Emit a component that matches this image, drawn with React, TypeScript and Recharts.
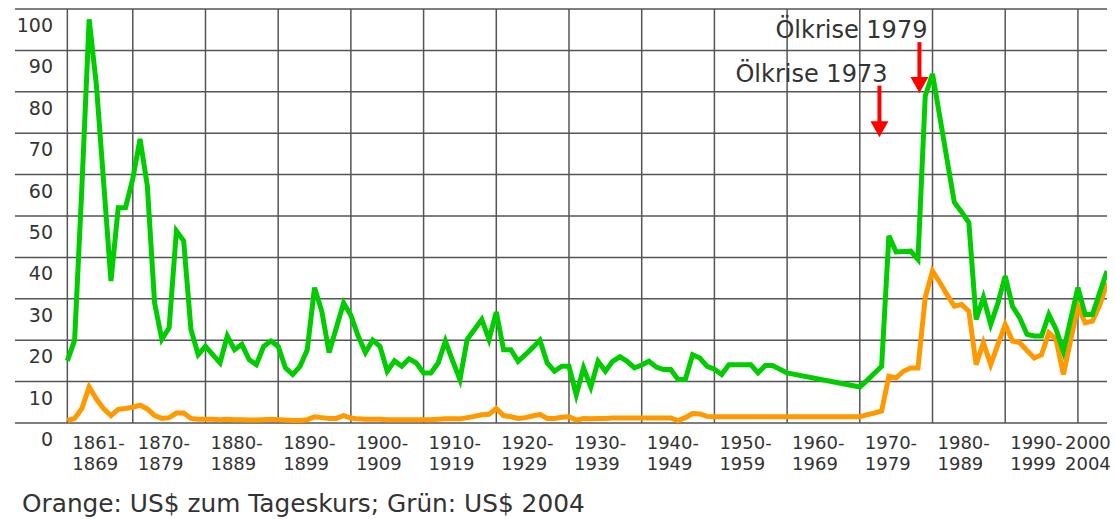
import React from 'react'
import {
  LineChart,
  Line,
  XAxis,
  YAxis,
  CartesianGrid,
  ReferenceLine,
} from 'recharts'

// years with a value (the 1960s have no points, the line just bridges them)
const range = (from: number, to: number) => {
  const out: number[] = []
  for (let y = from; y <= to; y++) out.push(y)
  return out
}
const earlyYears = range(1861, 1960)
const lateYears = range(1970, 2004)

// green: US$ 2004
const greenEarly = [
  15, 20, 57, 97.5, 81.5, 58, 34.3, 52, 52, 59,
  68.6, 57.3, 29, 20.2, 23, 46.4, 44, 22.6, 16.5, 18.5,
  16.5, 14.5, 21, 17.7, 19, 15.3, 14.1, 18.5, 19.8, 18.5,
  13.3, 11.7, 13.7, 17.7, 32.7, 27, 17, 23, 29, 26,
  21, 17, 20, 18.5, 12.5, 15, 13.7, 15.5, 14.5, 12.1,
  12.1, 14.5, 19.8, 15, 10.5, 20.2, 22.6, 25, 20.2, 26.8,
  17.7, 17.7, 14.9, 16.5, 18.2, 20, 14.5, 12.5, 13.7, 13.7,
  6.8, 13.3, 8.7, 14.9, 12.5, 14.9, 16, 14.9, 13.3, 14,
  14.9, 13.5, 12.9, 12.9, 10.5, 10.5, 16.5, 15.7, 13.7, 13,
  11.7, 14.1, 14.1, 14.1, 14.1, 12.1, 13.9, 13.9, 13, 12.1,
]
const greenLate = [
  8.7, 10.3, 12, 13.7, 45.2, 41.3, 41.4, 41.5, 39.5, 79,
  84.3, 74, 63.6, 53.3, 51, 48.4, 25, 30.3, 23.8, 29,
  35.5, 28.2, 25.4, 21.4, 21, 21, 26.2, 22.6, 17.3, 25,
  32.7, 26.2, 26.2, 31.5, 36.7,
]

// orange: US$ zum Tageskurs
const orangeEarly = [
  0.6, 1.1, 3.5, 8.7, 5.8, 3.4, 1.8, 3.3, 3.5, 3.8,
  4.3, 3.4, 1.8, 1.1, 1.3, 2.4, 2.4, 1.1, 0.9, 0.9,
  0.9, 0.8, 0.9, 0.8, 0.8, 0.7, 0.7, 0.8, 0.9, 0.8,
  0.7, 0.6, 0.6, 0.8, 1.5, 1.3, 1.1, 1.1, 1.8, 1.2,
  1.0, 0.9, 0.9, 0.9, 0.8, 0.8, 0.8, 0.8, 0.8, 0.8,
  0.8, 0.9, 1.0, 1.0, 1.0, 1.3, 1.6, 2.0, 2.1, 3.5,
  1.8, 1.5, 1.1, 1.3, 1.7, 2.1, 1.1, 1.1, 1.4, 1.5,
  0.7, 1.1, 1.0, 1.1, 1.1, 1.2, 1.2, 1.2, 1.2, 1.2,
  1.2, 1.2, 1.2, 1.2, 0.6, 1.3, 2.3, 2.2, 1.6, 1.5,
  1.5, 1.5, 1.5, 1.5, 1.5, 1.5, 1.5, 1.5, 1.5, 1.5,
]
const orangeLate = [
  1.5, 2.0, 2.4, 2.9, 11.3, 10.9, 12.5, 13.3, 13.3, 30.3,
  36.7, 34, 31, 28.2, 28.6, 27, 14.1, 19.4, 14.1, 19,
  23.8, 19.8, 19.4, 17.5, 15.7, 16.5, 21.8, 20.2, 11.7, 20,
  28.2, 24.2, 24.6, 28.5, 33.9,
]

const decadeTicks = [1861, 1870, 1880, 1890, 1900, 1910, 1920, 1930, 1940, 1950, 1960, 1970, 1980, 1990, 2000]
const labelTop = ['1861-', '1870-', '1880-', '1890-', '1900-', '1910-', '1920-', '1930-', '1940-', '1950-', '1960-', '1970-', '1980-', '1990-', '2000']
const labelBottom = ['1869', '1879', '1889', '1899', '1909', '1919', '1929', '1939', '1949', '1959', '1969', '1979', '1989', '1999', '2004']
const valueTicks = [0, 10, 20, 30, 40, 50, 60, 70, 80, 90, 100]

const crises = [
  { label: 'Ölkrise 1973', year: 1972.7, from: 81.5, to: 69 },
  { label: 'Ölkrise 1979', year: 1978.2, from: 92, to: 79.7 },
]

const data = [
  ...earlyYears.map((year, i) => ({ year, green: greenEarly[i], orange: orangeEarly[i] })),
  ...lateYears.map((year, i) => ({ year, green: greenLate[i], orange: orangeLate[i] })),
]

const FONT = '"DejaVu Sans", Verdana, sans-serif'
const TEXT = '#333'
const GRID = '#555'

const XTick = (props: any) => {
  const { x, y, index } = props
  const last = index === decadeTicks.length - 1
  const tx = last ? x + 10 : x + 5
  const anchor = last ? 'middle' : 'start'
  return (
    <text fontFamily={FONT} fontSize={18} fill={TEXT} textAnchor={anchor}>
      <tspan x={tx} y={y + 24}>{labelTop[index]}</tspan>
      <tspan x={tx} y={y + 45}>{labelBottom[index]}</tspan>
    </text>
  )
}

const YTick = (props: any) => {
  const { x, y, payload } = props
  return (
    <text x={x + 38} y={y + 23} fontFamily={FONT} fontSize={19} fill={TEXT} textAnchor="end">
      {payload.value}
    </text>
  )
}

const Arrow = (props: any) => {
  const { x1, y1, x2, y2, label } = props
  return (
    <g>
      <line x1={x1} y1={y1} x2={x2} y2={y2 - 14} stroke="#ff0000" strokeWidth={4} />
      <polygon points={`${x2 - 9},${y2 - 16} ${x2 + 9},${y2 - 16} ${x2},${y2}`} fill="#ff0000" />
      <text x={x1 + 8} y={y1 - 4} fontFamily={FONT} fontSize={24} fill={TEXT} textAnchor="end">
        {label}
      </text>
    </g>
  )
}

export default function App() {
  return (
    <div style={{ position: 'absolute', left: 0, top: 0, width: 1115, height: 519, background: '#fff' }}>
      <LineChart
        width={1115}
        height={519}
        data={data}
        margin={{ top: 9, right: 8, left: 0, bottom: 46 }}
      >
        <CartesianGrid stroke={GRID} strokeWidth={1.5} vertical={false} />
        <XAxis
          type="number"
          dataKey="year"
          domain={[1853.8, 2004]}
          allowDataOverflow
          ticks={decadeTicks}
          interval={0}
          height={50}
          axisLine={false}
          tickLine={false}
          tickSize={0}
          tick={<XTick />}
        />
        <YAxis
          type="number"
          domain={[0, 100]}
          ticks={valueTicks}
          width={15}
          axisLine={false}
          tickLine={false}
          tickSize={0}
          tickMargin={0}
          tick={<YTick />}
        />
        {decadeTicks.map((t) => (
          <ReferenceLine key={t} x={t} stroke={GRID} strokeWidth={1.5} />
        ))}
        <Line
          type="linear"
          dataKey="orange"
          stroke="#ff9900"
          strokeWidth={5}
          strokeLinejoin="miter"
          dot={false}
          isAnimationActive={false}
        />
        <Line
          type="linear"
          dataKey="green"
          stroke="#00cc00"
          strokeWidth={5}
          strokeLinejoin="miter"
          dot={false}
          isAnimationActive={false}
        />
        {crises.map((c) => (
          <ReferenceLine
            key={c.label}
            segment={[{ x: c.year, y: c.from }, { x: c.year, y: c.to }]}
            ifOverflow="visible"
            shape={(p: any) => <Arrow {...p} label={c.label} />}
          />
        ))}
      </LineChart>
      <div
        style={{
          position: 'absolute',
          left: 22,
          top: 492,
          fontFamily: FONT,
          fontSize: 24.8,
          lineHeight: '24px',
          color: TEXT,
          whiteSpace: 'nowrap',
        }}
      >
        Orange: US$ zum Tageskurs; Grün: US$ 2004
      </div>
    </div>
  )
}
